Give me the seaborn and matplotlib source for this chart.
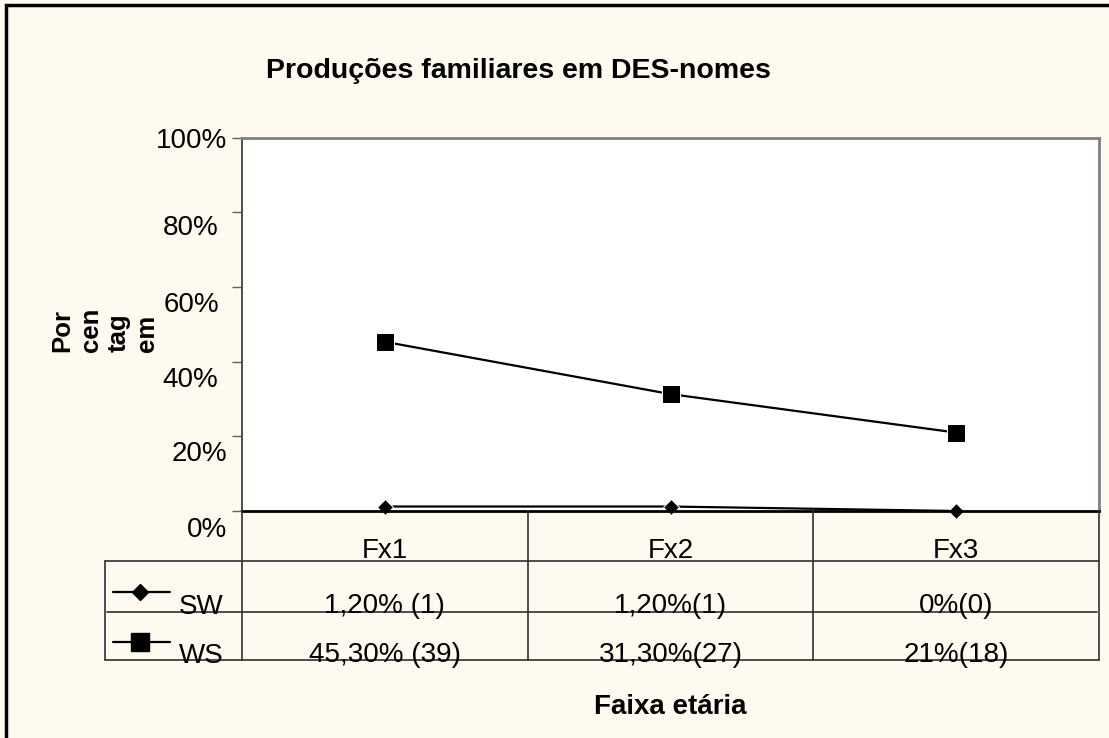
import pandas as pd
import numpy as np
import seaborn as sns
import matplotlib.pyplot as plt
import matplotlib.transforms as mtrans
from matplotlib.lines import Line2D
from matplotlib.patches import Rectangle

sns.set_style("white")
plt.rcParams['font.family'] = ['Liberation Sans', 'DejaVu Sans']
plt.rcParams['text.color'] = 'black'

# Data
categories = ["Fx1", "Fx2", "Fx3"]
sw_values = [1.2, 1.2, 0.0]
ws_values = [45.3, 31.3, 21.0]
sw_labels = ["1,20% (1)", "1,20%(1)", "0%(0)"]
ws_labels = ["45,30% (39)", "31,30%(27)", "21%(18)"]
series_names = ["SW", "WS"]
y_ticks = [0, 20, 40, 60, 80, 100]
y_tick_labels = ["0%", "20%", "40%", "60%", "80%", "100%"]

df = pd.DataFrame({
    "Faixa": categories * 2,
    "Serie": ["SW"] * 3 + ["WS"] * 3,
    "Valor": sw_values + ws_values,
})

W, H = 1109, 738
bg = "#FFFAF0"

def fx(px):
    return px / W

def fy(py):
    return 1 - py / H

fig = plt.figure(figsize=(W / 100, H / 100), dpi=100, facecolor=bg)
ax = fig.add_axes([fx(242), fy(511), fx(1099) - fx(242), fy(137.5) - fy(511)])
ax.set_facecolor("white")

# series lines
sns.lineplot(data=df[df["Serie"] == "SW"], x="Faixa", y="Valor", color="black",
             marker="D", markersize=8, linewidth=1.6, ax=ax, legend=False)
sns.lineplot(data=df[df["Serie"] == "WS"], x="Faixa", y="Valor", color="black",
             marker="s", markersize=13, linewidth=1.6, ax=ax, legend=False)
for line in ax.lines:
    line.set_clip_on(False)

ax.set_xlim(-0.5, 2.5)
ax.set_ylim(0, 100)
ax.set_xticks([])
ax.set_xlabel("")
ax.set_ylabel("")
ax.set_yticks(y_ticks)
ax.set_yticklabels([])
ax.tick_params(axis="y", left=True, length=7.2, width=1, color="#606060")

for side in ["top", "right"]:
    ax.spines[side].set_color("#808080")
    ax.spines[side].set_linewidth(2)
ax.spines["left"].set_color("#404040")
ax.spines["left"].set_linewidth(1.3)
ax.spines["bottom"].set_color("black")
ax.spines["bottom"].set_linewidth(2)

# y tick labels (offset like the original rendering)
x_off = [-15, -15, -24, -23, -23, -15]
y_off = [-19, -18, -18, -18, -16, -3]
for v, lab, dx, dy in zip(y_ticks, y_tick_labels, x_off, y_off):
    tr = mtrans.offset_copy(ax.get_yaxis_transform(), fig=fig, x=dx, y=dy, units="dots")
    ax.text(0, v, lab, transform=tr, ha="right", va="center", fontsize=20)

# title and axis labels
fig.text(fx(518), fy(71), "Produções familiares em DES-nomes", ha="center", va="center",
         fontsize=20.5, fontweight="bold")
fig.text(fx(105), fy(330), "Por\ncen\ntag\nem", rotation=90, ha="center", va="center",
         multialignment="left", fontsize=18.5, fontweight="bold", linespacing=1.22)
fig.text(fx(670), fy(707), "Faixa etária", ha="center", va="center",
         fontsize=20, fontweight="bold")

# data table
blend = mtrans.blended_transform_factory(ax.transData, fig.transFigure)
grid = "#303030"
edges = [-0.5, 0.5, 1.5, 2.5]
for e in edges:
    fig.add_artist(Line2D([e, e], [fy(511), fy(660)], transform=blend, color=grid, lw=1.2))
fig.add_artist(Line2D([fx(105), fx(1099)], [fy(561), fy(561)], color=grid, lw=1.2))
fig.add_artist(Line2D([fx(107), fx(1097)], [fy(612), fy(612)], color=grid, lw=1.2))
fig.add_artist(Line2D([fx(105), fx(1099)], [fy(660), fy(660)], color=grid, lw=1.2))
fig.add_artist(Line2D([fx(105), fx(105)], [fy(561), fy(660)], color=grid, lw=1.2))

for i, cat in enumerate(categories):
    fig.text(i, fy(551), cat, transform=blend, ha="center", va="center", fontsize=20)
    fig.text(i, fy(606), sw_labels[i], transform=blend, ha="center", va="center", fontsize=20)
    fig.text(i, fy(655), ws_labels[i], transform=blend, ha="center", va="center", fontsize=20)

# legend keys inside the table
keys = [("D", 8, 592, 607), ("s", 13, 642, 656)]
for name, (mk, ms, ly, ty) in zip(series_names, keys):
    fig.add_artist(Line2D([fx(113), fx(170)], [fy(ly), fy(ly)], color="black", lw=1.6))
    fig.add_artist(Line2D([fx(140)], [fy(ly)], marker=mk, markersize=ms, color="black",
                          linestyle="none"))
    fig.text(fx(179), fy(ty), name, ha="left", va="center", fontsize=20)

# outer chart border
fig.add_artist(Rectangle((fx(6), -0.1), 1.2, fy(5) + 0.1, transform=fig.transFigure,
                         fill=False, edgecolor="black", lw=2.5))

fig.savefig("out.png", dpi=100, facecolor=bg)
